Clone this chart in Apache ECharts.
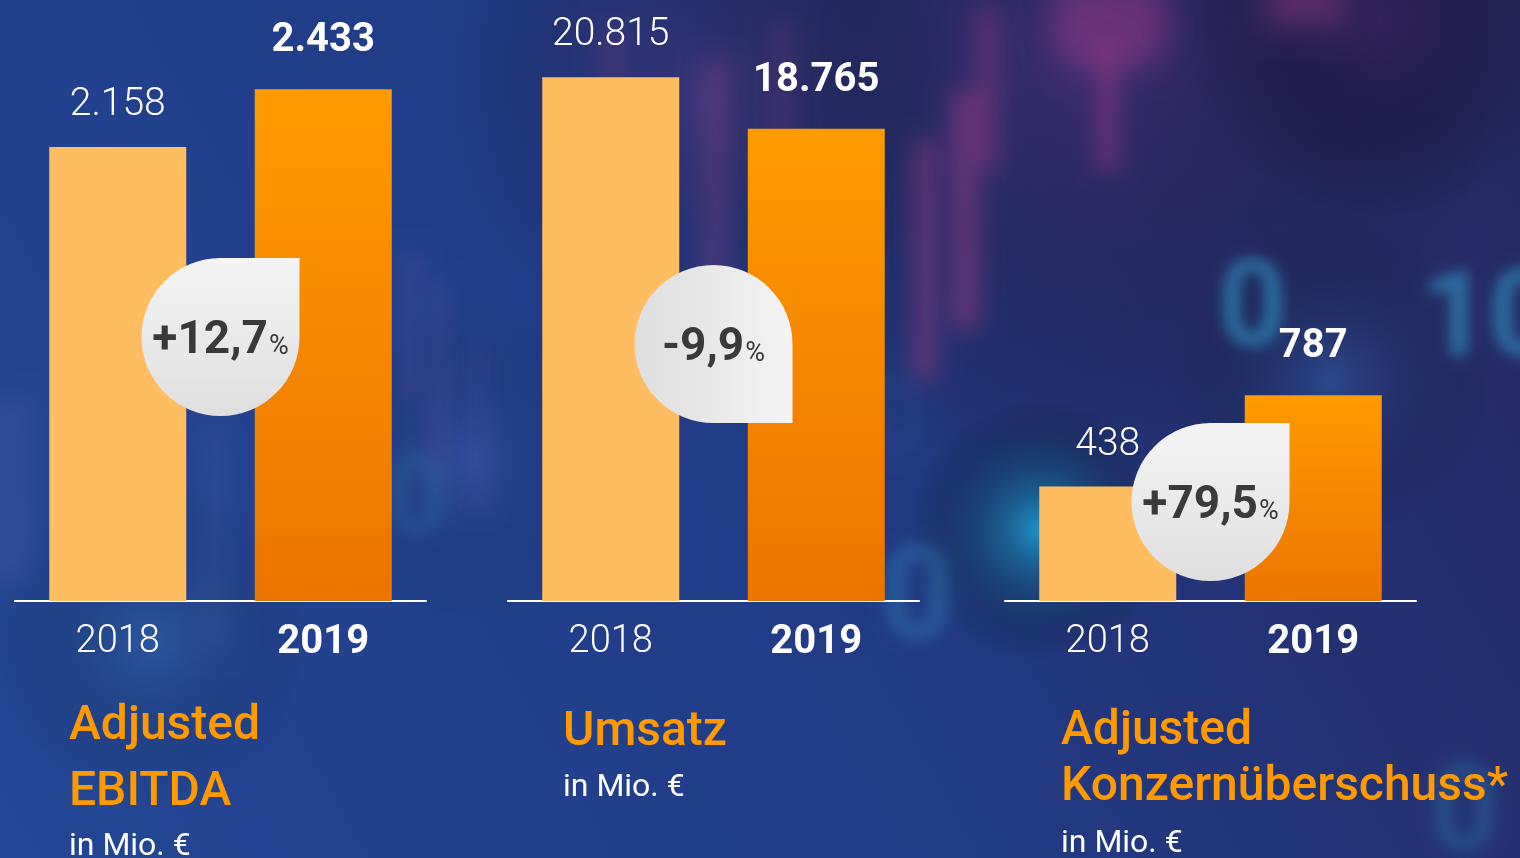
<!DOCTYPE html>
<html><head><meta charset="utf-8">
<script src="https://cdn.jsdelivr.net/npm/echarts@6/dist/echarts.min.js"></script>
<style>html,body{margin:0;padding:0;background:#22387f;overflow:hidden}#c{width:1520px;height:858px;}</style>
</head><body><div id="c"></div>
<script>
// ---- data ----
const years = ['2018', '2019'];
const ebitda = [2158, 2433];
const umsatz = [20815, 18765];
const konzern = [438, 787];
const ebitdaLabels = ['2.158', '2.433'];
const umsatzLabels = ['20.815', '18.765'];
const konzernLabels = ['438', '787'];
const changes = ['+12,7', '-9,9', '+79,5'];
const titleLines = [['Adjusted', 'EBITDA'], ['Umsatz'], ['Adjusted', 'Konzernüberschuss*']];
const unitText = 'in Mio. €';

// ---- layout / style ----
const FONT = 'Roboto, "Noto Sans", sans-serif';
const gridLefts = [15, 508, 1005];
const gridWidth = 411;
const axisMax = [2857, 23883, 2300];
const titleX = [69, 563, 1061];
const titleY = [[727, 793], [733], [732, 788]];
const unitY = [847, 788, 844];
const badgeY = [337, 344, 502];
const badgeR = [[79, 0, 79, 79], [79, 79, 0, 79], [79, 0, 79, 79]];
const badgeGrad = ['v', 'h', 'v'];

const panels = [
  { values: ebitda, labels: ebitdaLabels },
  { values: umsatz, labels: umsatzLabels },
  { values: konzern, labels: konzernLabels }
];

const color2018 = '#FFBD5F';
const color2019 = new echarts.graphic.LinearGradient(0, 0, 0, 1, [
  { offset: 0, color: '#FF9A00' }, { offset: 1, color: '#EC7500' }
]);

const chart = echarts.init(document.getElementById('c'), null, { renderer: 'canvas' });

const grids = [], xAxes = [], yAxes = [], series = [];
panels.forEach((p, i) => {
  grids.push({ left: gridLefts[i], width: gridWidth, top: 0, height: 601, containLabel: false });
  xAxes.push({
    type: 'category', gridIndex: i, data: years,
    axisLine: { show: true, lineStyle: { color: '#ffffff', width: 2 } },
    axisTick: { show: false },
    axisLabel: {
      margin: 22,
      formatter: (v, idx) => idx === 0 ? '{a|' + v + '}' : '{b|' + v + '}',
      rich: {
        a: { fontFamily: FONT, fontSize: 38, fontWeight: 300, color: '#ffffff' },
        b: { fontFamily: FONT, fontSize: 40, fontWeight: 700, color: '#ffffff' }
      }
    },
    splitLine: { show: false }
  });
  yAxes.push({ type: 'value', gridIndex: i, min: 0, max: axisMax[i], show: false, splitLine: { show: false } });
  series.push({
    type: 'bar', xAxisIndex: i, yAxisIndex: i, barWidth: 137, z: 3,
    data: p.values.map((v, k) => ({
      value: v,
      itemStyle: { color: k === 0 ? color2018 : color2019 },
      label: {
        show: true, position: 'top', distance: k === 0 ? 22 : 28,
        formatter: () => p.labels[k],
        fontFamily: FONT, color: '#ffffff',
        fontSize: k === 0 ? 39 : 40, fontWeight: k === 0 ? 300 : 700
      }
    })),
    emphasis: { disabled: true }
  });
});

// background decorations (blurred via shadow-offset trick)
const OFF = 4000;
function blurRect(x, y, w, h, col, blur, r) {
  return { type: 'rect', z: -50, silent: true,
    shape: { x: x - OFF, y: y, width: w, height: h, r: r || 0 },
    style: { fill: col, shadowColor: col, shadowBlur: blur, shadowOffsetX: OFF } };
}
function blurText(x, y, t, size, col, blur) {
  return { type: 'text', z: -50, silent: true, x: x - OFF, y: y,
    style: { text: t, fontSize: size, fontWeight: 700, fontFamily: FONT, fill: col,
      shadowColor: col, shadowBlur: blur, shadowOffsetX: OFF,
      textShadowColor: col, textShadowBlur: blur, textShadowOffsetX: OFF } };
}
function glow(cx, cy, r, col) {
  return { type: 'circle', z: -60, silent: true, shape: { cx: cx, cy: cy, r: r },
    style: { fill: new echarts.graphic.RadialGradient(0.5, 0.5, 0.5, [
      { offset: 0, color: col }, { offset: 1, color: 'rgba(0,0,0,0)' }]) } };
}

const deco = [
  { type: 'rect', z: -100, silent: true, shape: { x: 0, y: 0, width: 1520, height: 858 },
    style: { fill: new echarts.graphic.LinearGradient(0, 1, 1, 0, [
      { offset: 0, color: '#234795' }, { offset: 0.45, color: '#213c88' }, { offset: 1, color: '#25275f' }]) } },
  glow(1080, 60, 420, 'rgba(80,40,110,0.55)'),
  glow(700, 100, 260, 'rgba(90,50,120,0.4)'),
  glow(1380, 20, 200, 'rgba(60,30,90,0.6)'),
  glow(1040, 530, 130, 'rgba(30,170,220,0.8)'),
  glow(1330, 380, 160, 'rgba(60,110,190,0.4)'),
  glow(150, 640, 160, 'rgba(60,120,190,0.35)'),
  glow(470, 460, 160, 'rgba(70,100,190,0.3)'),
  // magenta blurred candles
  blurRect(913, 140, 24, 240, 'rgba(140,55,125,0.75)', 22),
  blurRect(950, 90, 30, 240, 'rgba(140,55,125,0.75)', 22),
  blurRect(975, 10, 24, 160, 'rgba(140,55,125,0.7)', 22),
  blurRect(1050, -20, 120, 90, 'rgba(140,55,130,0.75)', 30, 40),
  blurRect(1095, 40, 25, 130, 'rgba(140,55,130,0.7)', 20),
  blurRect(1265, -20, 80, 45, 'rgba(150,60,130,0.7)', 30),
  blurRect(700, 60, 30, 250, 'rgba(130,60,130,0.6)', 22),
  blurRect(600, 20, 25, 140, 'rgba(120,60,130,0.5)', 22),
  blurRect(770, 20, 25, 160, 'rgba(120,60,130,0.5)', 22),
  blurRect(400, 250, 20, 150, 'rgba(120,80,160,0.45)', 20),
  blurRect(430, 280, 18, 200, 'rgba(120,80,160,0.45)', 20),
  blurRect(470, 340, 18, 170, 'rgba(110,90,170,0.4)', 20),
  blurRect(-10, 400, 40, 180, 'rgba(110,100,180,0.45)', 25),
  blurRect(200, 420, 30, 230, 'rgba(100,110,190,0.35)', 25),
  // cyan blurred digits
  blurText(1218, 255, '0', 120, 'rgba(50,150,200,0.8)', 14),
  blurText(1420, 265, '10', 120, 'rgba(50,150,200,0.8)', 14),
  blurText(880, 540, '0', 130, 'rgba(50,150,200,0.6)', 16),
  blurText(1430, 760, '0', 120, 'rgba(50,150,200,0.55)', 16),
  blurText(385, 450, '0', 110, 'rgba(60,150,200,0.45)', 16),
  blurText(865, 370, '0', 110, 'rgba(60,140,200,0.3)', 18)
];

// titles
const titleEls = [];
titleLines.forEach((lines, i) => {
  lines.forEach((t, j) => {
    titleEls.push({ type: 'text', z: 20, x: titleX[i], y: titleY[i][j],
      style: { text: t, fontFamily: FONT, fontSize: 48, fontWeight: 500, fill: '#FF9900',
        align: 'left', verticalAlign: 'middle' } });
  });
  titleEls.push({ type: 'text', z: 20, x: titleX[i], y: unitY[i],
    style: { text: unitText, fontFamily: FONT, fontSize: 32, fontWeight: 400, fill: '#ffffff',
      align: 'left', verticalAlign: 'middle' } });
});

chart.setOption({
  animation: false,
  backgroundColor: '#22387f',
  grid: grids, xAxis: xAxes, yAxis: yAxes, series: series,
  graphic: { elements: deco.concat(titleEls) }
});

// badges placed between the two bars of each panel via the axis scale
const badges = [];
panels.forEach((p, i) => {
  const a = chart.convertToPixel({ xAxisIndex: i }, years[0]);
  const b = chart.convertToPixel({ xAxisIndex: i }, years[1]);
  const cx = (a + b) / 2;
  const grad = badgeGrad[i] === 'v'
    ? new echarts.graphic.LinearGradient(0, 0, 0, 1, [{ offset: 0, color: '#f4f4f4' }, { offset: 1, color: '#dfdfdf' }])
    : new echarts.graphic.LinearGradient(0, 0, 1, 0, [{ offset: 0, color: '#dedede' }, { offset: 1, color: '#f4f4f4' }]);
  badges.push({
    type: 'group', x: cx, y: badgeY[i], z: 30,
    children: [
      { type: 'rect', z: 30, shape: { x: -79, y: -79, width: 158, height: 158, r: badgeR[i] }, style: { fill: grad } },
      { type: 'text', z: 31, x: 0, y: 4,
        style: { text: '{n|' + changes[i] + '}{p|%}', align: 'center', verticalAlign: 'middle',
          rich: {
            n: { fontFamily: FONT, fontSize: 46, fontWeight: 700, fill: '#3a3a3a', color: '#3a3a3a', lineHeight: 46, verticalAlign: 'bottom' },
            p: { fontFamily: FONT, fontSize: 27, fontWeight: 400, fill: '#3a3a3a', color: '#3a3a3a', lineHeight: 27, verticalAlign: 'bottom', padding: [0, 0, 3, 1] }
          } } }
    ]
  });
});
chart.setOption({ graphic: { elements: deco.concat(titleEls).concat(badges) } }, { replaceMerge: ['graphic'] });
</script>
</body></html>
